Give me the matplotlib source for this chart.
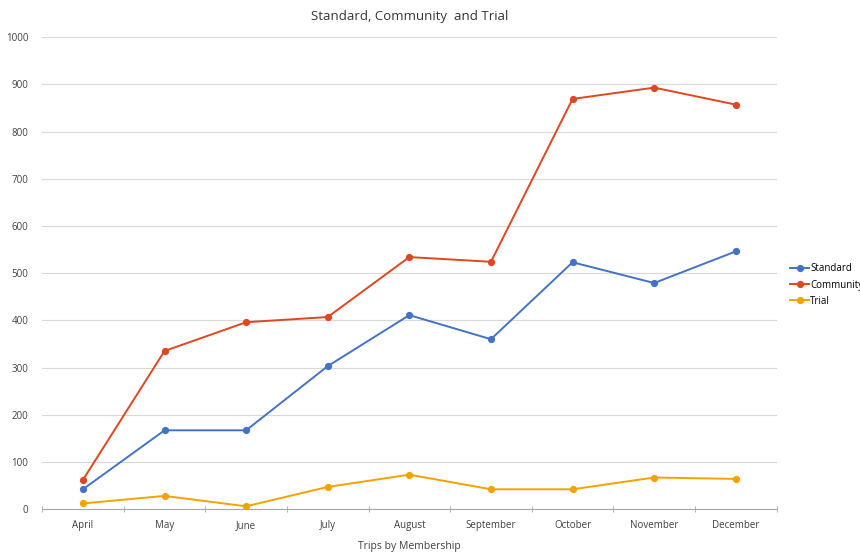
import matplotlib
matplotlib.use('Agg')
import matplotlib.pyplot as plt
import numpy as np

months = ['April', 'May', 'June', 'July', 'August', 'September', 'October', 'November', 'December']
standard = [42, 167, 167, 303, 411, 360, 523, 479, 546]
community = [62, 335, 396, 407, 534, 524, 869, 893, 857]
trial = [12, 28, 6, 47, 73, 42, 42, 67, 64]

plt.rcParams['font.family'] = ['Open Sans', 'DejaVu Sans']

fig = plt.figure(figsize=(8.6, 5.54), dpi=100)
ax = fig.add_axes([0.049, 0.081, 0.854, 0.852])

x = np.arange(len(months))
ax.plot(x, standard, color='#4472C4', marker='o', ms=4.2, lw=1.4, label='Standard')
ax.plot(x, community, color='#E0461F', marker='o', ms=4.2, lw=1.4, label='Community')
ax.plot(x, trial, color='#F5A200', marker='o', ms=4.2, lw=1.4, label='Trial')

ax.set_xlim(-0.5, len(months) - 0.5)
ax.set_ylim(0, 1000)
ax.set_yticks(range(0, 1001, 100))
ax.set_xticks(x)
ax.set_xticklabels(months)
ax.set_xticks(np.arange(-0.5, len(months)), minor=True)
ax.tick_params(axis='x', which='major', length=0, pad=8, labelsize=7, colors='#404040')
ax.tick_params(axis='x', which='minor', length=4, color='#A6A6A6', direction='inout')
ax.tick_params(axis='y', length=0, labelsize=7, colors='#404040', pad=10)
ax.grid(axis='y', color='#D9D9D9', lw=0.8)
ax.set_axisbelow(True)
for s in ['top', 'right', 'left']:
    ax.spines[s].set_visible(False)
ax.spines['bottom'].set_color('#A6A6A6')

ax.set_title('Standard, Community  and Trial', fontsize=9.5, color='#333333', pad=12)
ax.set_xlabel('Trips by Membership', fontsize=7.5, color='#404040', labelpad=7)

leg = fig.legend(loc='upper left', bbox_to_anchor=(0.914, 0.532), frameon=False, fontsize=7,
                 handlelength=2, handletextpad=0.1, labelspacing=0.55, borderaxespad=0)

fig.savefig('out.png', dpi=100)
